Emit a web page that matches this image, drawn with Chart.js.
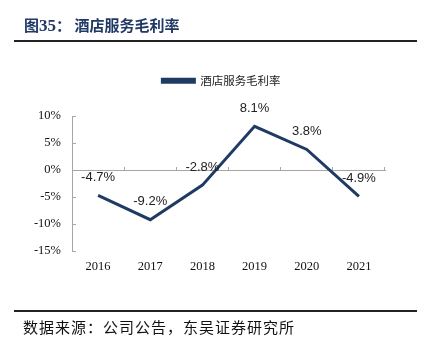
<!DOCTYPE html>
<html>
<head>
<meta charset="utf-8">
<script src="https://cdn.jsdelivr.net/npm/chart.js@4"></script>
<style>
  body { margin: 0; background: #fff; }
  #wrap { position: relative; width: 429px; height: 349px; overflow: hidden; }
  #chart { position: absolute; left: 0; top: 0; }
  .title { position: absolute; left: 24px; top: 16px; font: bold 15px "Noto Sans CJK SC", "Liberation Serif", serif; line-height: 18px; color: #1f3864; white-space: nowrap; }
  .title .num { font-family: "Liberation Serif", serif; font-size: 17px; }
  .rule { position: absolute; left: 14px; width: 403px; height: 2px; background: #222; }
  .source { position: absolute; left: 23px; top: 318px; font: 15px "Noto Sans CJK SC", sans-serif; line-height: 18px; letter-spacing: 1px; color: #111; white-space: nowrap; }
</style>
</head>
<body>
<div id="wrap">
  <!-- canvas is a bit wider than the page so the legend centres where the original has it -->
  <canvas id="chart" width="443" height="349"></canvas>
  <div class="title">图<span class="num">35</span>：&nbsp;酒店服务毛利率</div>
  <div class="rule" style="top:40px"></div>
  <div class="rule" style="top:310px"></div>
  <div class="source">数据来源：公司公告，东吴证券研究所</div>
</div>
<script>
// chart data
const years = ['2016', '2017', '2018', '2019', '2020', '2021'];
const grossMargin = [-4.7, -9.2, -2.8, 8.1, 3.8, -4.9];
const seriesName = '酒店服务毛利率';
const yTicks = [-15, -10, -5, 0, 5, 10];

const lineColor = '#1f3b63';
const axisColor = '#a6a6a6';

// draw the value label above every point
const valueLabels = {
  id: 'valueLabels',
  afterDatasetsDraw(chart) {
    const c = chart.ctx;
    const meta = chart.getDatasetMeta(0);
    c.save();
    c.font = '13px "Liberation Sans", Arial, sans-serif';
    c.fillStyle = '#222';
    c.textAlign = 'center';
    c.textBaseline = 'middle';
    meta.data.forEach((pt, i) => {
      c.fillText(grossMargin[i].toFixed(1) + '%', pt.x, pt.y - 18);
    });
    c.restore();
  }
};

new Chart(document.getElementById('chart'), {
  type: 'line',
  data: {
    labels: years,
    datasets: [{
      label: seriesName,
      data: grossMargin,
      borderColor: lineColor,
      backgroundColor: lineColor,
      borderWidth: 3,
      pointRadius: 0,
      tension: 0
    }]
  },
  options: {
    responsive: false,
    animation: false,
    layout: { padding: { left: 0, right: 0, top: 65, bottom: 68 } },
    plugins: {
      legend: {
        display: true,
        position: 'top',
        labels: {
          boxWidth: 32,
          boxHeight: 3,
          padding: 10,
          color: '#222',
          font: { family: '"Noto Sans CJK SC", sans-serif', size: 11.5 }
        }
      },
      // empty title used only as a gap between legend and plot
      title: {
        display: true,
        text: '',
        weight: 500,
        font: { size: 1 },
        padding: { top: 0, bottom: 18.3 }
      },
      tooltip: { enabled: false }
    },
    scales: {
      x: {
        position: 'bottom',
        offset: true,
        grid: { display: false },
        border: { display: false },
        ticks: {
          color: '#111',
          padding: 0,
          font: { family: '"Liberation Serif", serif', size: 12.5 }
        },
        afterFit(scale) { scale.height = 30; }
      },
      x2: {
        type: 'category',
        labels: years,
        offset: true,
        position: { y: 0 },
        grid: { display: true, drawOnChartArea: false, offset: true, tickLength: -4, color: axisColor },
        border: { display: true, color: axisColor, width: 1 },
        ticks: { display: false }
      },
      y: {
        min: -15,
        max: 10,
        afterBuildTicks(scale) { scale.ticks = yTicks.map(v => ({ value: v })); },
        grid: { display: true, drawOnChartArea: false, tickLength: -4, color: axisColor },
        border: { display: true, color: axisColor, width: 1 },
        ticks: {
          color: '#111',
          padding: 15,
          font: { family: '"Liberation Serif", serif', size: 12.5 },
          callback: v => v + '%'
        },
        afterFit(scale) { scale.width = 72; }
      },
      // blank right-hand axis, only reserves the empty space right of the plot
      yRight: {
        position: 'right',
        display: true,
        min: -15,
        max: 10,
        grid: { display: false },
        border: { display: false },
        ticks: { display: false },
        afterFit(scale) { scale.width = 58; }
      }
    }
  },
  plugins: [valueLabels]
});
</script>
</body>
</html>
